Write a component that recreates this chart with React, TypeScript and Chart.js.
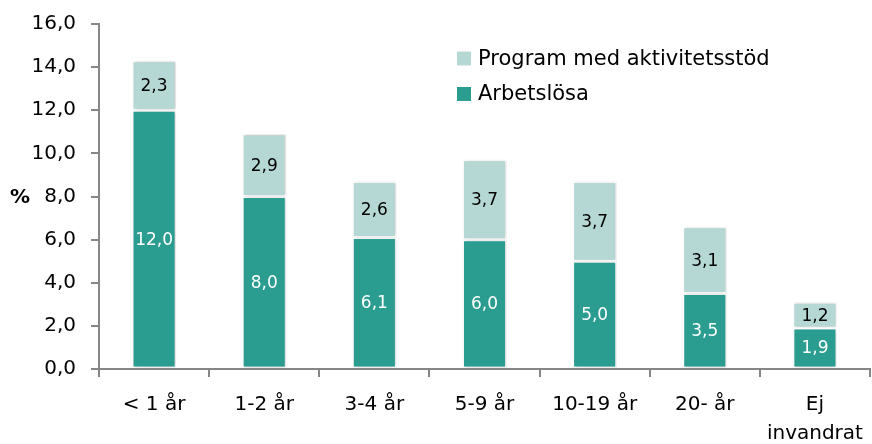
import React, { useEffect, useRef } from "react";
import { Chart, registerables } from "chart.js";

Chart.register(...registerables);

const categories: (string | string[])[] = ["< 1 år", "1-2 år", "3-4 år", "5-9 år", "10-19 år", "20- år", ["Ej", "invandrat"]];
const arbetslosa = [12.0, 8.0, 6.1, 6.0, 5.0, 3.5, 1.9];
const program = [2.3, 2.9, 2.6, 3.7, 3.7, 3.1, 1.2];
const seriesNames = ["Arbetslösa", "Program med aktivitetsstöd"];
const yTicks = { min: 0, max: 16, step: 2 };

const DARK = "#2a9d90";
const LIGHT = "#b5d8d4";
const AXIS = "#868686";
const FONT = "'DejaVu Sans', sans-serif";

const fmt = (v: number) => v.toFixed(1).replace(".", ",");

export default function App() {
  const ref = useRef<HTMLCanvasElement | null>(null);

  useEffect(() => {
    if (!ref.current) return;
    const labelsPlugin = {
      id: "customDraw",
      beforeDatasetsDraw(chart: any) {
        const ctx = chart.ctx;
        ctx.save();
        ctx.shadowColor = "rgba(0,0,0,0.22)";
        ctx.shadowBlur = 3;
        ctx.shadowOffsetX = 1;
        ctx.shadowOffsetY = 0;
      },
      afterDatasetsDraw(chart: any) {
        const ctx = chart.ctx;
        ctx.restore();
        ctx.save();
        ctx.textAlign = "center";
        ctx.textBaseline = "middle";
        ctx.font = `17px ${FONT}`;
        chart.data.datasets.forEach((ds: any, di: number) => {
          const meta = chart.getDatasetMeta(di);
          meta.data.forEach((el: any, i: number) => {
            const v = ds.data[i];
            ctx.fillStyle = di === 0 ? "#ffffff" : "#000000";
            ctx.fillText(fmt(v), el.x, (el.y + el.base) / 2 + 1);
          });
        });
        ctx.restore();
      },
      afterDraw(chart: any) {
        const ctx = chart.ctx;
        ctx.save();
        ctx.font = `bold 20px ${FONT}`;
        ctx.fillStyle = "#000";
        ctx.textAlign = "center";
        ctx.textBaseline = "middle";
        ctx.fillText("%", 20, 198);
        const items = [
          { name: seriesNames[1], color: LIGHT, y: 58.5 },
          { name: seriesNames[0], color: DARK, y: 94 },
        ];
        ctx.font = `21px ${FONT}`;
        ctx.textAlign = "left";
        items.forEach((it) => {
          ctx.fillStyle = it.color;
          ctx.fillRect(457, it.y - 7, 14, 14);
          ctx.fillStyle = "#000";
          ctx.fillText(it.name, 478, it.y + 1);
        });
        ctx.restore();
      },
    };

    const chart = new Chart(ref.current, {
      type: "bar",
      data: {
        labels: categories,
        datasets: [
          {
            label: seriesNames[0],
            data: arbetslosa,
            backgroundColor: DARK,
            borderColor: "#ffffff",
            borderWidth: 1.5,
            borderSkipped: false,
          },
          {
            label: seriesNames[1],
            data: program,
            backgroundColor: LIGHT,
            borderColor: "#ffffff",
            borderWidth: 1.5,
            borderSkipped: false,
          },
        ],
      },
      options: {
        animation: false,
        responsive: true,
        maintainAspectRatio: false,
        layout: { padding: { top: 24, right: 2, left: 0, bottom: 0 } },
        datasets: { bar: { categoryPercentage: 1, barPercentage: 0.4 } },
        plugins: {
          legend: { display: false },
          tooltip: { enabled: false },
        },
        scales: {
          x: {
            stacked: true,
            offset: true,
            grid: {
              offset: true,
              drawOnChartArea: false,
              drawTicks: true,
              tickLength: 8,
              color: AXIS,
              lineWidth: 2,
            },
            border: { display: true, color: AXIS, width: 2 },
            ticks: {
              color: "#000",
              font: { family: FONT, size: 20, lineHeight: 1.45 },
              padding: 13,
              maxRotation: 0,
              autoSkip: false,
            },
            afterFit: (scale: any) => {
              scale.height = 75;
              scale.paddingLeft = 0;
              scale.paddingRight = 0;
            },
          },
          y: {
            stacked: true,
            min: yTicks.min,
            max: yTicks.max,
            grid: {
              drawOnChartArea: false,
              drawTicks: true,
              tickLength: 8,
              color: AXIS,
              lineWidth: 2,
            },
            border: { display: true, color: AXIS, width: 2 },
            ticks: {
              stepSize: yTicks.step,
              color: "#000",
              font: { family: FONT, size: 20 },
              padding: 15,
              callback: (v: any) => fmt(Number(v)),
            },
            afterFit: (scale: any) => {
              scale.width = 99;
              scale.paddingTop = 0;
              scale.paddingBottom = 0;
            },
          },
        },
      },
      plugins: [labelsPlugin],
    });
    return () => chart.destroy();
  }, []);

  return (
    <div style={{ position: "absolute", left: 0, top: 0, width: 872, height: 444, background: "#fff" }}>
      <canvas ref={ref} />
    </div>
  );
}
